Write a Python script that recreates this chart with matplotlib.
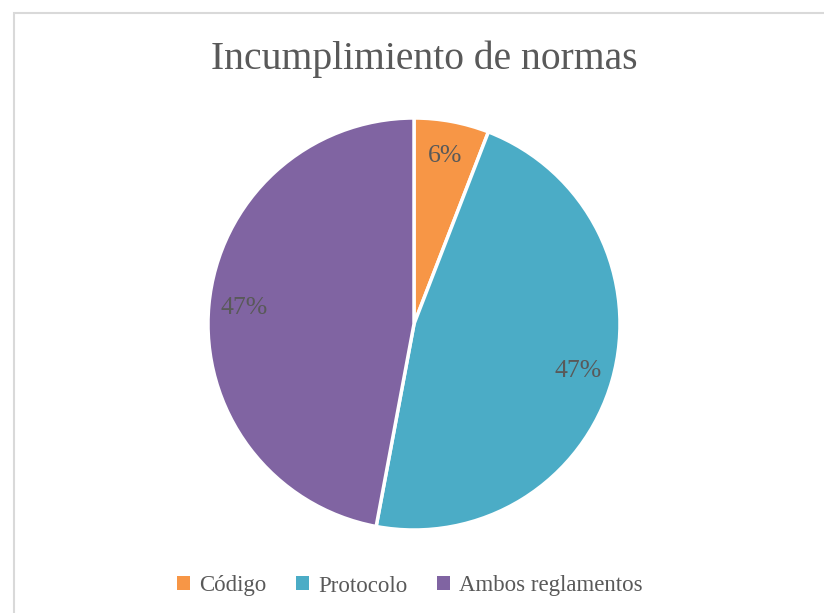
import matplotlib.pyplot as plt
from matplotlib.patches import Rectangle

categories = ['Código', 'Protocolo', 'Ambos reglamentos']
values = [1, 8, 8]
colors = ['#F79646', '#4BACC6', '#8064A2']

plt.rcParams['font.family'] = ['Liberation Serif', 'DejaVu Serif']
text_color = '#595959'

fig = plt.figure(figsize=(8.24, 6.13), dpi=100)
ax = fig.add_axes([0, 0, 1, 1])

wedges, texts, autotexts = ax.pie(
    values, colors=colors, startangle=90, counterclock=False,
    center=(414, 289), radius=206, autopct='%1.0f%%', pctdistance=0.83,
    wedgeprops=dict(edgecolor='white', linewidth=2.5),
    textprops=dict(color=text_color, fontsize=18.5))

# pie() resets the limits, so set them afterwards
ax.set_xlim(0, 824)
ax.set_ylim(0, 613)
ax.set_aspect('equal')
ax.axis('off')

# chart frame (cut off at right/bottom like the screenshot)
ax.add_patch(Rectangle((14, -20), 830, 613 - 13 + 20, fill=False,
                       edgecolor='#D9D9D9', linewidth=1.5))

ax.text(424, 554, 'Incumplimiento de normas', ha='center', va='center',
        fontsize=28.5, color=text_color)

leg = ax.legend(wedges, categories, loc='center', bbox_to_anchor=(410, 27),
                bbox_transform=ax.transData, ncol=3, frameon=False,
                fontsize=16.5, handlelength=0.55, handleheight=0.55,
                handletextpad=0.4, columnspacing=1.3)
for t in leg.get_texts():
    t.set_color(text_color)
for h in leg.legend_handles:
    h.set_linewidth(0)

fig.savefig('out.png', dpi=100)
